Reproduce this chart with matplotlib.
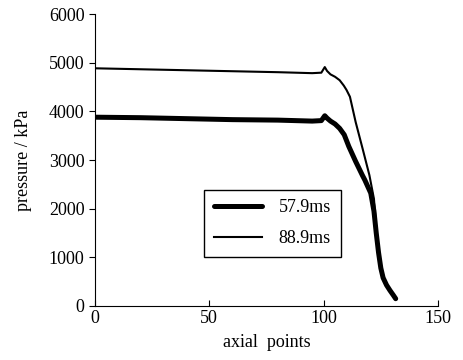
import matplotlib
matplotlib.use("Agg")
import matplotlib.pyplot as plt

# pressure profiles along the axial points
x_579 = [0, 20, 40, 60, 80, 95, 99, 100.5, 101.5, 103, 105, 107, 109, 111, 114, 117,
         118, 120.6, 122, 123, 124, 125, 126, 127.5, 129, 130.5, 131.5]
p_579 = [3880, 3870, 3850, 3830, 3820, 3800, 3810, 3910, 3860, 3800, 3740, 3650, 3520,
         3280, 2970, 2680, 2590, 2320, 1950, 1500, 1100, 780, 580, 430, 320, 220, 150]

x_889 = [0, 20, 40, 60, 80, 95, 99, 100.5, 101.5, 103, 105, 107, 108.8, 110, 111.5,
         114, 117, 120, 122, 123, 124, 125, 126, 127.5, 129, 130.5, 131.5]
p_889 = [4885, 4865, 4845, 4825, 4805, 4785, 4795, 4910, 4830, 4760, 4710, 4640, 4530,
         4440, 4300, 3780, 3240, 2690, 2200, 1600, 1120, 780, 580, 430, 320, 220, 150]

labels = ["57.9ms", "88.9ms"]
xticks = [0, 50, 100, 150]
yticks = [0, 1000, 2000, 3000, 4000, 5000, 6000]

plt.rcParams['font.family'] = ['Liberation Serif', 'DejaVu Serif']

fig = plt.figure(figsize=(4.63, 3.6), dpi=100)
ax = fig.add_axes([0.205, 0.15, 0.741, 0.811])

ax.plot(x_579, p_579, color="black", lw=3.6, label=labels[0], solid_capstyle="round")
ax.plot(x_889, p_889, color="black", lw=1.5, label=labels[1])

ax.set_xlim(0, 150)
ax.set_ylim(0, 6000)
ax.set_xticks(xticks)
ax.set_yticks(yticks)
ax.spines['top'].set_visible(False)
ax.spines['right'].set_visible(False)
ax.tick_params(axis='y', direction='out', length=4, labelsize=13)
ax.tick_params(axis='x', direction='in', length=4, labelsize=13, pad=3)

ax.set_xlabel("axial  points", fontsize=13, labelpad=5)
ax.set_ylabel("pressure / kPa", fontsize=13, labelpad=12)

leg = ax.legend(loc="lower left", bbox_to_anchor=(0.317, 0.168), fontsize=13,
                frameon=True, fancybox=False, edgecolor="black", framealpha=1,
                handlelength=2.7, labelspacing=0.75, handletextpad=0.9,
                borderpad=0.55, borderaxespad=0)
leg.get_frame().set_linewidth(1.0)

fig.savefig("out.png", dpi=100)
